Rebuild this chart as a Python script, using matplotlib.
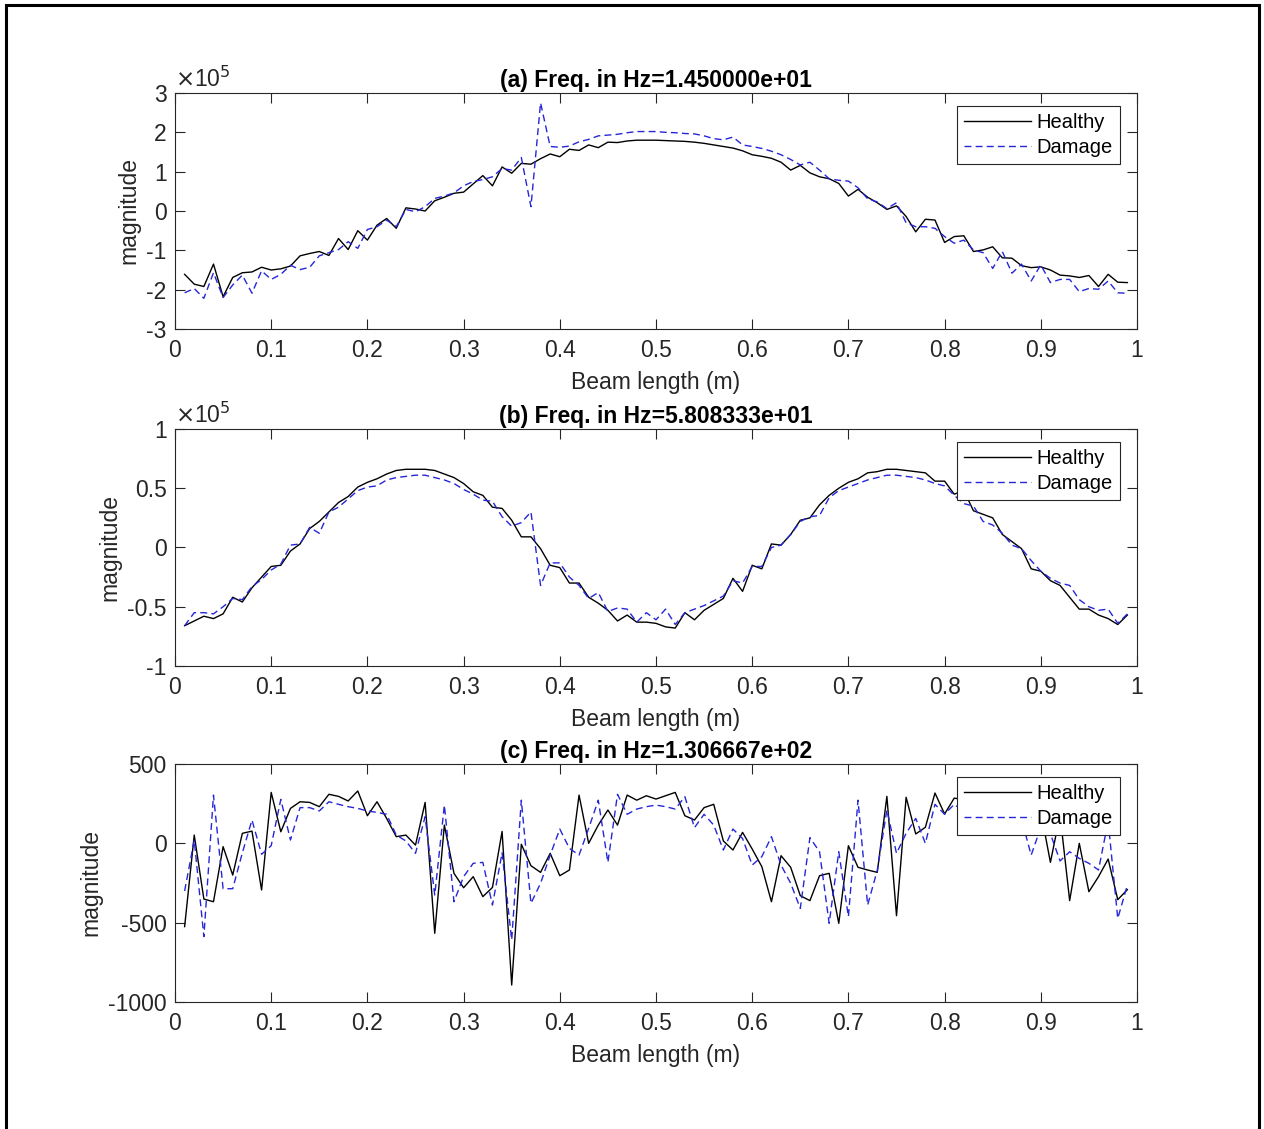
import numpy as np
import matplotlib
matplotlib.use("Agg")
import matplotlib.pyplot as plt
from matplotlib.patches import Rectangle
from matplotlib.ticker import FuncFormatter

# beam positions (m)
beam_x = np.round(np.arange(1, 100) * 0.01, 2)

# (a) 14.5 Hz, values in units of 1e5
healthy_a = [
    -1.61, -1.86, -1.92, -1.35, -2.18, -1.69, -1.57, -1.55, -1.43, -1.50,
    -1.47, -1.40, -1.14, -1.08, -1.03, -1.13, -0.70, -0.98, -0.50, -0.74,
    -0.36, -0.19, -0.44, 0.08, 0.05, 0.00, 0.26, 0.35, 0.45, 0.48,
    0.69, 0.90, 0.64, 1.12, 0.96, 1.21, 1.19, 1.33, 1.45, 1.38,
    1.57, 1.54, 1.68, 1.61, 1.75, 1.74, 1.78, 1.80, 1.80, 1.80,
    1.79, 1.78, 1.77, 1.75, 1.72, 1.68, 1.64, 1.60, 1.53, 1.43,
    1.39, 1.34, 1.24, 1.04, 1.16, 0.97, 0.87, 0.82, 0.70, 0.38,
    0.55, 0.35, 0.21, 0.04, 0.13, -0.14, -0.53, -0.21, -0.23, -0.80,
    -0.65, -0.63, -1.03, -0.99, -0.91, -1.19, -1.20, -1.39, -1.44, -1.42,
    -1.50, -1.63, -1.65, -1.69, -1.64, -1.92, -1.61, -1.81, -1.82,
]
damage_a = [
    -2.08, -1.97, -2.22, -1.57, -2.20, -1.88, -1.63, -2.09, -1.52, -1.74,
    -1.61, -1.38, -1.49, -1.43, -1.14, -1.06, -0.98, -0.78, -0.95, -0.47,
    -0.40, -0.23, -0.40, 0.04, -0.02, 0.11, 0.32, 0.38, 0.46, 0.64,
    0.75, 0.80, 0.87, 1.08, 1.04, 1.36, 0.11, 2.75, 1.64, 1.62,
    1.65, 1.76, 1.82, 1.91, 1.93, 1.95, 1.99, 2.02, 2.02, 2.02,
    2.00, 1.99, 1.97, 1.96, 1.91, 1.84, 1.81, 1.88, 1.68, 1.64,
    1.59, 1.52, 1.43, 1.31, 1.17, 1.24, 1.04, 0.82, 0.78, 0.76,
    0.59, 0.31, 0.23, 0.06, 0.21, -0.30, -0.40, -0.40, -0.44, -0.65,
    -0.82, -0.74, -0.99, -1.06, -1.46, -1.03, -1.58, -1.35, -1.78, -1.37,
    -1.82, -1.74, -1.74, -2.05, -1.97, -1.99, -1.78, -2.08, -2.09,
]

# (b) 58.08 Hz, values in units of 1e5
healthy_b = [
    -0.66, -0.62, -0.58, -0.60, -0.56, -0.42, -0.46, -0.34, -0.25, -0.16,
    -0.15, -0.03, 0.03, 0.16, 0.22, 0.30, 0.38, 0.43, 0.51, 0.55,
    0.58, 0.62, 0.65, 0.66, 0.66, 0.66, 0.65, 0.62, 0.59, 0.54,
    0.47, 0.44, 0.34, 0.33, 0.23, 0.09, 0.09, -0.01, -0.15, -0.17,
    -0.30, -0.30, -0.42, -0.47, -0.53, -0.62, -0.57, -0.63, -0.63, -0.64,
    -0.67, -0.68, -0.55, -0.61, -0.53, -0.48, -0.43, -0.26, -0.37, -0.15,
    -0.18, 0.03, 0.02, 0.11, 0.23, 0.25, 0.36, 0.44, 0.50, 0.55,
    0.58, 0.63, 0.64, 0.66, 0.66, 0.65, 0.64, 0.63, 0.56, 0.56,
    0.45, 0.48, 0.31, 0.28, 0.25, 0.11, 0.05, -0.01, -0.18, -0.20,
    -0.28, -0.32, -0.42, -0.52, -0.52, -0.57, -0.60, -0.65, -0.57,
]
damage_b = [
    -0.66, -0.55, -0.55, -0.56, -0.50, -0.43, -0.44, -0.33, -0.27, -0.19,
    -0.14, 0.02, 0.03, 0.17, 0.12, 0.30, 0.34, 0.41, 0.48, 0.51,
    0.52, 0.57, 0.59, 0.60, 0.61, 0.61, 0.59, 0.57, 0.54, 0.49,
    0.45, 0.40, 0.39, 0.26, 0.18, 0.21, 0.30, -0.32, -0.13, -0.13,
    -0.25, -0.32, -0.43, -0.38, -0.54, -0.51, -0.52, -0.63, -0.55, -0.61,
    -0.52, -0.65, -0.55, -0.52, -0.49, -0.45, -0.41, -0.28, -0.30, -0.16,
    -0.16, 0.00, 0.02, 0.11, 0.22, 0.26, 0.27, 0.42, 0.48, 0.51,
    0.54, 0.57, 0.59, 0.61, 0.61, 0.60, 0.59, 0.57, 0.54, 0.52,
    0.44, 0.37, 0.35, 0.22, 0.19, 0.12, 0.02, -0.01, -0.11, -0.20,
    -0.26, -0.30, -0.32, -0.44, -0.50, -0.53, -0.52, -0.64, -0.56,
]

# (c) 130.67 Hz
healthy_c = [
    -525, 52, -351, -368, -21, -200, 63, 77, -294, 321,
    73, 220, 262, 258, 231, 309, 296, 267, 330, 174,
    262, 157, 42, 52, -11, 258, -567, 115, -189, -280,
    -210, -336, -278, 75, -893, -6, -141, -183, -63, -204,
    -168, 304, 0, 115, 210, 115, 304, 272, 300, 279,
    300, 321, 174, 147, 225, 246, 15, -42, 69, -36,
    -147, -368, -78, -151, -330, -361, -204, -189, -504, -15,
    -151, -168, -183, 296, -456, 290, 59, 101, 317, 185,
    285, 275, 260, 220, 150, 200, 100, 150, 120, 200,
    -120, 180, -361, 0, -305, -210, -99, -355, -292,
]
damage_c = [
    -300, 20, -588, 304, -286, -286, -60, 147, -69, -15,
    277, 21, 225, 225, 204, 262, 246, 231, 220, 204,
    195, 183, 52, 15, -63, 168, -326, 241, -368, -210,
    -126, -120, -389, -59, -609, 272, -378, -252, -74, 90,
    -32, -74, 94, 272, -120, 309, 183, 216, 231, 241,
    231, 216, 294, 99, 183, 115, -42, 90, 30, -137,
    -84, 42, -137, -252, -410, 36, -53, -504, -53, -462,
    272, -389, -170, 210, -63, 63, 157, 0, 246, 183,
    246, 200, 180, 150, 120, 180, 50, 150, -74, 100,
    60, -111, -53, -95, -126, -168, 140, -473, -263,
]

titles = ["(a) Freq. in Hz=1.450000e+01",
          "(b) Freq. in Hz=5.808333e+01",
          "(c) Freq. in Hz=1.306667e+02"]
yticks_a = [-3, -2, -1, 0, 1, 2, 3]
yticks_b = [-1, -0.5, 0, 0.5, 1]
yticks_c = [-1000, -500, 0, 500]
xticks = [0, 0.1, 0.2, 0.3, 0.4, 0.5, 0.6, 0.7, 0.8, 0.9, 1]

plt.rcParams["font.family"] = ["Liberation Sans", "DejaVu Sans"]
plt.rcParams["axes.unicode_minus"] = False

W, H = 1264, 1129
fig = plt.figure(figsize=(W / 100, H / 100), dpi=100)

gray = "0.15"
fs = 16.5
leg_fs = 14.5
fmt = FuncFormatter(lambda v, p: f"{v:g}")

# axes boxes in pixels: (top, bottom)
boxes = [(93, 329), (429, 666), (764, 1002)]
series = [(healthy_a, damage_a, yticks_a, True),
          (healthy_b, damage_b, yticks_b, True),
          (healthy_c, damage_c, yticks_c, False)]

for (top, bot), (h, d, yt, sci), title in zip(boxes, series, titles):
    ax = fig.add_axes([175 / W, 1 - bot / H, 962 / W, (bot - top) / H])
    ax.plot(beam_x, h, color="black", lw=1.0, label="Healthy")
    ax.plot(beam_x, d, color=(0.15, 0.15, 0.85), lw=1.0, ls="--",
            dashes=(5, 3), label="Damage")
    ax.set_xlim(0, 1)
    ax.set_ylim(yt[0], yt[-1])
    ax.set_xticks(xticks)
    ax.set_yticks(yt)
    ax.xaxis.set_major_formatter(fmt)
    ax.yaxis.set_major_formatter(fmt)
    ax.tick_params(direction="in", length=7, width=0.8, top=True, right=True,
                   labelsize=fs, colors=gray)
    ax.tick_params(axis="x", pad=7.5)
    ax.tick_params(axis="y", pad=6)
    for s in ax.spines.values():
        s.set_color(gray)
        s.set_linewidth(0.8)
    ax.set_title(title, fontsize=fs, fontweight="bold", pad=4)
    ax.set_xlabel("Beam length (m)", fontsize=fs, color=gray, labelpad=6)
    ax.set_ylabel("magnitude", fontsize=fs, color=gray, labelpad=4)
    if sci:
        ax.text(0, 1.006, r"$\times$10$^{5}$", transform=ax.transAxes,
                fontsize=fs, color=gray, ha="left", va="bottom")
    hgt = bot - top
    leg = ax.legend(loc="upper right", fontsize=leg_fs, fancybox=False,
                    framealpha=1, edgecolor=gray, handlelength=3.3,
                    handletextpad=0.3, labelspacing=0.3, borderpad=0.35,
                    borderaxespad=0,
                    bbox_to_anchor=(1 - 17 / 962, 1 - 13 / hgt))
    leg.get_frame().set_linewidth(0.8)

# outer frame
fig.patches.append(Rectangle((6 / W, -0.01), 1253 / W, 1.01 - 5 / H,
                             transform=fig.transFigure, fill=False,
                             edgecolor="black", linewidth=2.2))

fig.savefig("out.png", dpi=100)
